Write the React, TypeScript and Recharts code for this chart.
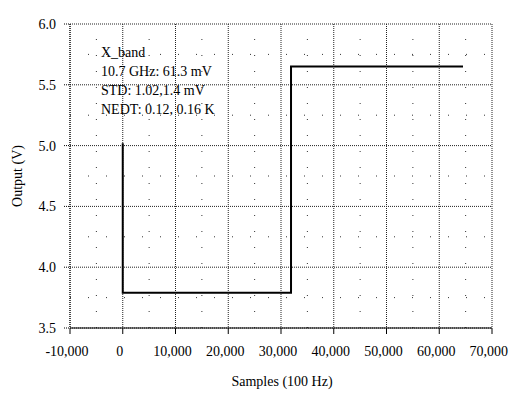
import { LineChart, Line, XAxis, YAxis, CartesianGrid, ReferenceLine } from 'recharts';

// step response of the X band channel
const stepX = [0, 0, 31900, 31900, 64500];
const stepY = [5.02, 3.79, 3.79, 5.65, 5.65];

const xTicks = [-10000, 0, 10000, 20000, 30000, 40000, 50000, 60000, 70000];
const yTicks = [3.5, 4.0, 4.5, 5.0, 5.5, 6.0];
const xMinor = [-5000, 5000, 15000, 25000, 35000, 45000, 55000, 65000];
const yMinor = [3.75, 4.25, 4.75, 5.25, 5.75];

const notes = ['X_band', '10.7 GHz: 61.3 mV', 'STD: 1.02,1.4 mV', 'NEDT: 0.12, 0.16 K'];

const data = stepX.map((x, i) => ({ x, y: stepY[i] }));

const font = '"Liberation Serif", "Times New Roman", serif';

export default function App() {
  return (
    <div style={{ position: 'absolute', left: 0, top: 0, width: 511, height: 395, background: '#fff', fontFamily: font }}>
      <LineChart width={511} height={395} data={data} margin={{ top: 24, right: 19, left: 30, bottom: 27 }}>
        <CartesianGrid stroke="#222" strokeDasharray="1 1" />
        {xMinor.map((v) => (
          <ReferenceLine key={'xm' + v} x={v} stroke="#333" strokeDasharray="1 15" />
        ))}
        {yMinor.map((v) => (
          <ReferenceLine key={'ym' + v} y={v} stroke="#333" strokeDasharray="1 17" />
        ))}
        <XAxis
          dataKey="x"
          type="number"
          domain={[-10000, 70000]}
          ticks={xTicks}
          allowDataOverflow
          height={40}
          stroke="#000"
          tickSize={6}
          tickMargin={12}
          tick={{ fill: '#000', fontSize: 14, fontFamily: font, dx: -3 }}
          tickFormatter={(v: number) => v.toLocaleString('en-US')}
        />
        <YAxis
          type="number"
          domain={[3.5, 6.0]}
          ticks={yTicks}
          allowDataOverflow
          width={40}
          stroke="#000"
          strokeDasharray="1 1"
          tickSize={6}
          tickMargin={8}
          tick={{ fill: '#000', fontSize: 14, fontFamily: font }}
          tickFormatter={(v: number) => v.toFixed(1)}
        />
        <Line dataKey="y" type="linear" stroke="#000" strokeWidth={2} dot={false} isAnimationActive={false} />
      </LineChart>
      <div style={{ position: 'absolute', left: 101, top: 43, fontSize: 14, lineHeight: '19px', color: '#000' }}>
        {notes.map((t) => (
          <div key={t}>{t}</div>
        ))}
      </div>
      <div style={{ position: 'absolute', left: 182, width: 200, top: 373, textAlign: 'center', fontSize: 14, lineHeight: '18px', color: '#000' }}>
        Samples (100 Hz)
      </div>
      <div
        style={{
          position: 'absolute',
          left: 18 - 50,
          top: 176 - 9,
          width: 100,
          textAlign: 'center',
          fontSize: 14,
          lineHeight: '18px',
          color: '#000',
          transform: 'rotate(-90deg)',
        }}
      >
        Output (V)
      </div>
    </div>
  );
}
